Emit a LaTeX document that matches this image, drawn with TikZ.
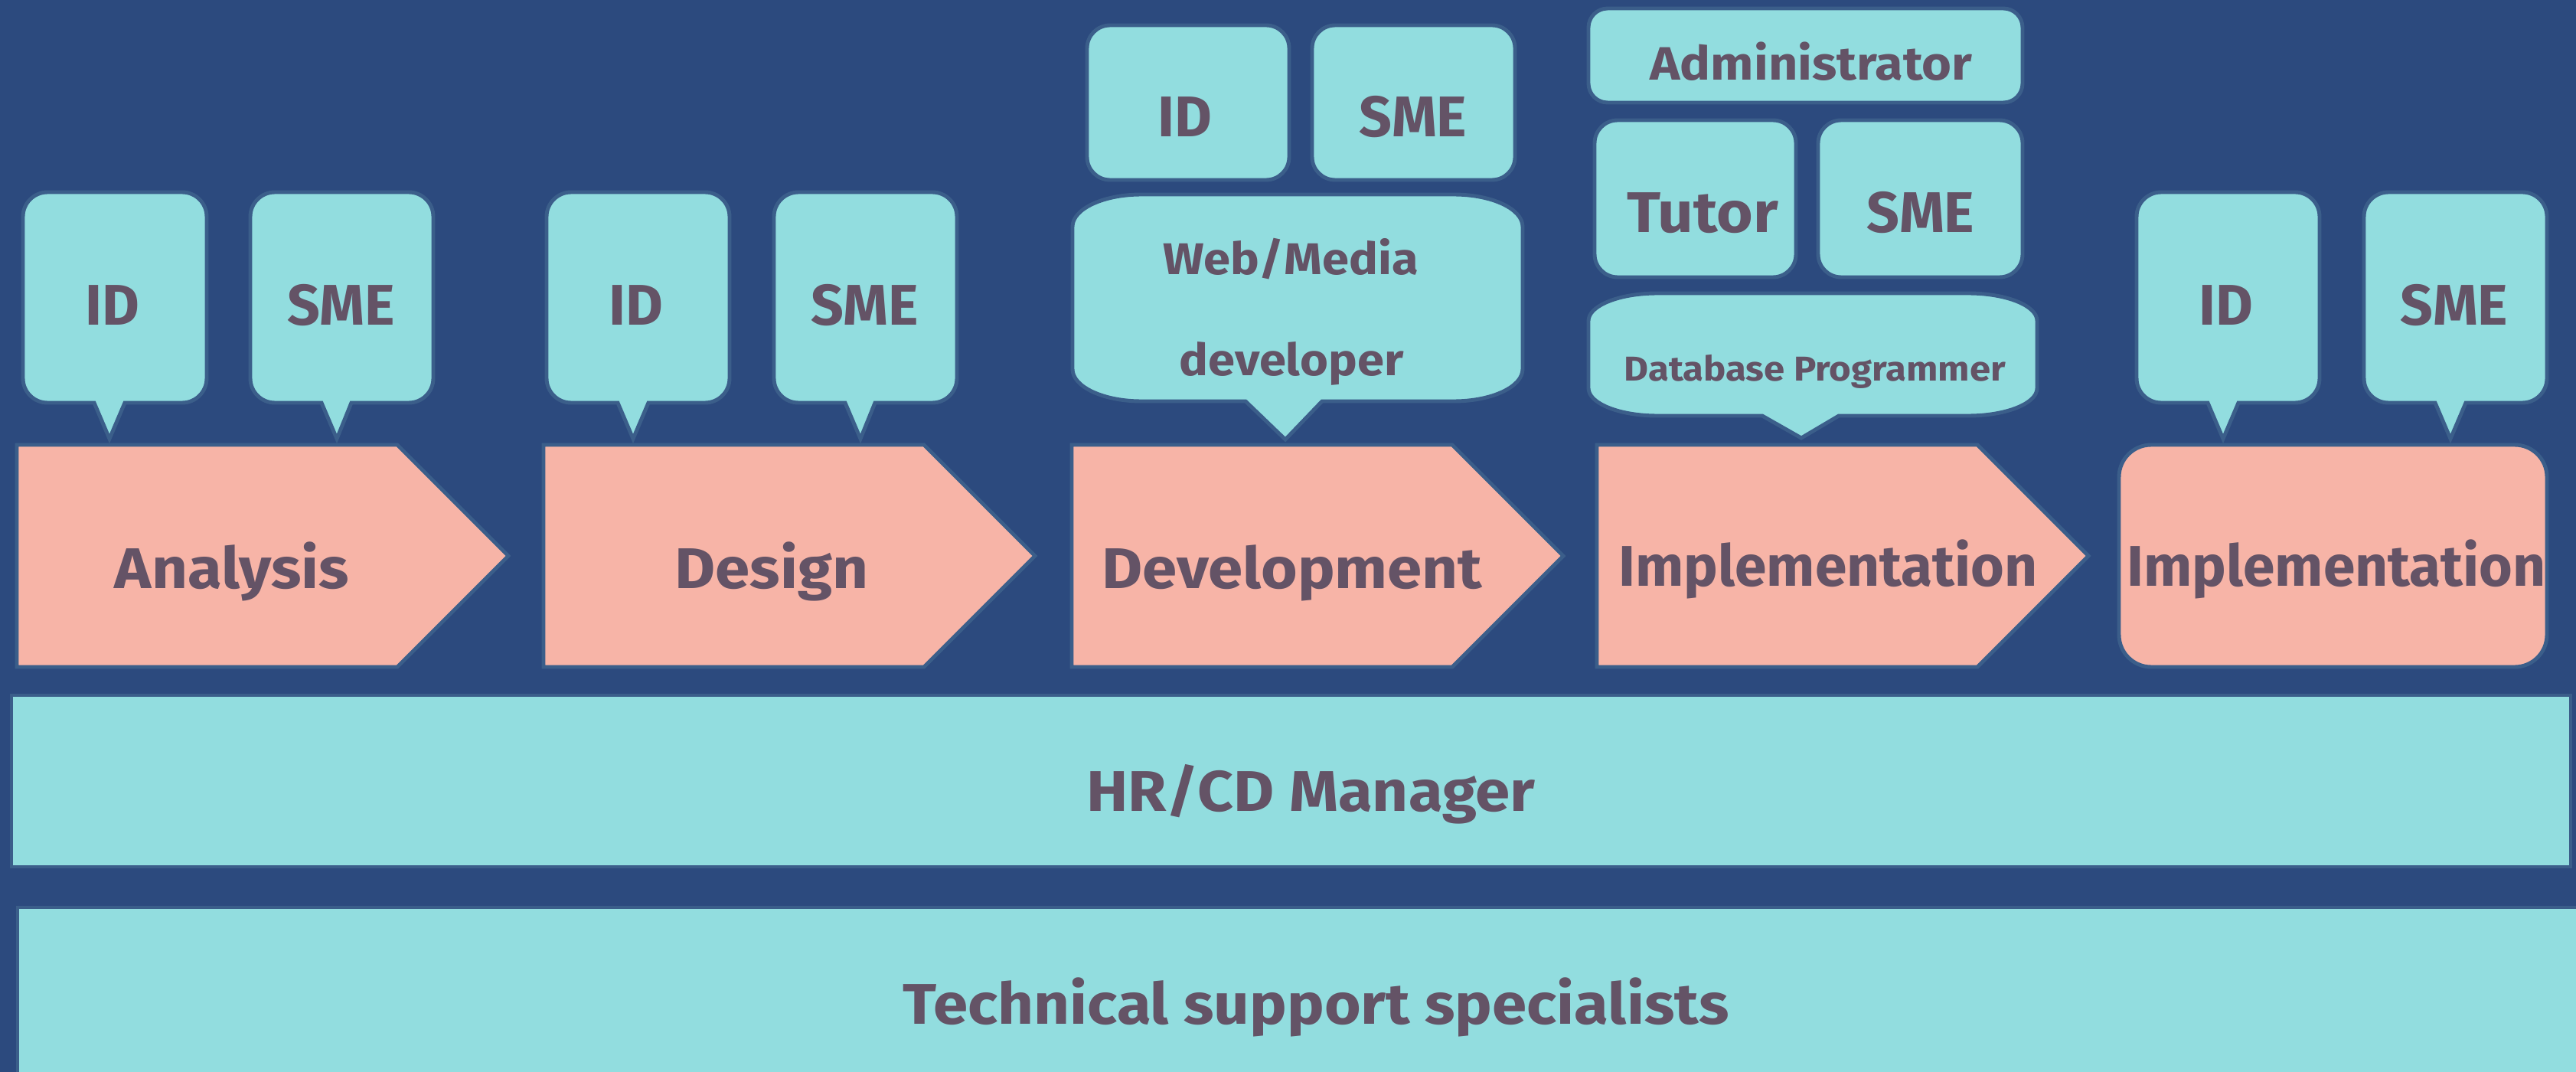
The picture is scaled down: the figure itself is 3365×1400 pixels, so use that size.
\documentclass[tikz,border=0pt]{standalone}
\usepackage{fontspec}
\setmainfont{Fira Sans}
\newfontfamily\widefont[FakeStretch=1.09]{Fira Sans}
\definecolor{bg}{HTML}{2C4A7E}
\definecolor{cyanb}{HTML}{92DDDF}
\definecolor{salmon}{HTML}{F7B4A7}
\definecolor{txt}{HTML}{645366}
\definecolor{edge}{HTML}{3B5E8A}
\newcommand\bubble[9]{%
 \filldraw[shapeline, fill=cyanb] ({#1+#5},#2) -- ({#3-#5},#2) .. controls ({#3-0.448*#5},#2) and (#3,{#2+0.448*#6}) .. (#3,{#2+#6}) -- (#3,{#4-#6}) .. controls (#3,{#4-0.448*#6}) and ({#3-0.448*#5},#4) .. ({#3-#5},#4) -- (#8,#4) -- (#9) -- (#7,#4) -- ({#1+#5},#4) .. controls ({#1+0.448*#5},#4) and (#1,{#4-0.448*#6}) .. (#1,{#4-#6}) -- (#1,{#2+#6}) .. controls (#1,{#2+0.448*#6}) and ({#1+0.448*#5},#2) .. cycle;}
\newcommand\stage[1]{\filldraw[shapeline, fill=salmon] (#1,581) -- ({#1+497},581) -- ({#1+642},726) -- ({#1+497},871) -- (#1,871) -- cycle;}
\newcommand\rbox[5]{\filldraw[shapeline, fill=cyanb, rounded corners=#5] (#1,#2) rectangle (#3,#4);}
\tikzset{
 shapeline/.style={draw=edge, line width=1.4pt},
 lbl/.style={anchor=base, text=txt, inner sep=0pt, font=\fontsize{21.3}{25}\selectfont\bfseries},
 wlbl/.style={anchor=base, text=txt, inner sep=0pt, font=\widefont\fontsize{21.3}{25}\selectfont\bfseries},
}
\begin{document}
\begin{tikzpicture}[x=0.01cm,y=-0.01cm]
\fill[bg] (0,0) rectangle (3365,1400);
\useasboundingbox (0,0) rectangle (3365,1400);
% stages
\stage{22}\stage{710}\stage{1400}\stage{2086}
\filldraw[shapeline, fill=salmon, rounded corners=0.42cm] (2768,581) rectangle (3327,871);
% bubbles column 1
\bubble{30}{251}{270}{526}{32}{32}{123}{163}{143,573}
\bubble{327}{251}{566}{526}{32}{32}{420}{459}{440,573}
% column 2
\bubble{714}{251}{953}{526}{32}{32}{807}{847}{827,573}
\bubble{1011}{251}{1250}{526}{32}{32}{1104}{1143}{1124,573}
% column 3
\rbox{1420}{33}{1684}{235}{0.3cm}
\rbox{1714}{33}{1979}{235}{0.3cm}
\bubble{1401}{254}{1989}{524}{90}{42}{1627}{1727}{1679,574}
% column 4
\rbox{2075}{11}{2642}{134}{0.25cm}
\rbox{2083}{157}{2346}{362}{0.3cm}
\rbox{2375}{157}{2642}{362}{0.3cm}
\bubble{2075}{383}{2661}{543}{90}{36}{2302}{2402}{2353,572}
% column 5
\bubble{2791}{251}{3030}{526}{32}{32}{2884}{2924}{2904,573}
\bubble{3088}{251}{3327}{526}{32}{32}{3181}{3221}{3201,573}
% bars
\filldraw[shapeline, fill=cyanb] (15,908) rectangle (3358,1132);
\filldraw[shapeline, fill=cyanb] (23,1185) rectangle (3400,1420);
% texts
\node[lbl] (a-id) at (147,424) {ID};
\node[lbl] (a-sme) at (446,424) {SME};
\node[lbl] (d-id) at (831,424) {ID};
\node[lbl] (d-sme) at (1130,424) {SME};
\node[lbl] (v-id) at (1548,179) {ID};
\node[lbl] (v-sme) at (1846,179) {SME};
\node[wlbl, font=\widefont\fontsize{16.5}{20}\selectfont\bfseries] (v-web) at (1686,358) {Web/Media};
\node[wlbl, font=\widefont\fontsize{16.5}{20}\selectfont\bfseries] (v-dev) at (1687,490) {developer};
\node[wlbl, font=\widefont\fontsize{17.4}{20}\selectfont\bfseries] (i-adm) at (2366,105) {Administrator};
\node[wlbl] (i-tut) at (2224,304) {Tutor};
\node[lbl] (i-sme) at (2509,304) {SME};
\node[wlbl, font=\widefont\fontsize{12.8}{15}\selectfont\bfseries] (i-db) at (2371,498) {Database Programmer};
\node[lbl] (e-id) at (2908,424) {ID};
\node[lbl] (e-sme) at (3206,424) {SME};
\node[wlbl] (t-ana) at (303,768) {Analysis};
\node[wlbl] (t-des) at (1008,768) {Design};
\node[wlbl] (t-dev) at (1688,768) {Development};
\node[lbl] (t-imp) at (2388,765) {Implementation};
\node[lbl] (t-imp2) at (3052,765) {Implementation};
\node[wlbl] (hr) at (1712,1059) {HR/CD Manager};
\node[wlbl] (tech) at (1719,1337) {Technical support specialists};
\end{tikzpicture}
\end{document}
